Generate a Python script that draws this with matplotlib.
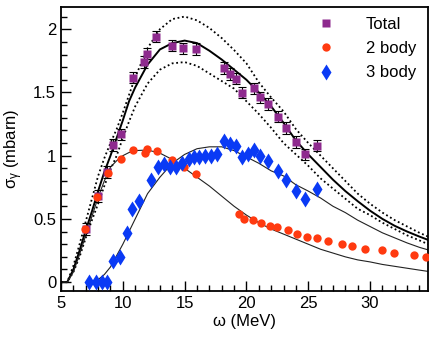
import numpy as np
import matplotlib
matplotlib.use('Agg')
import matplotlib.pyplot as plt
from matplotlib.ticker import MultipleLocator
from matplotlib.lines import Line2D

plt.rcParams['mathtext.default'] = 'regular'
plt.rcParams['font.family'] = ['Liberation Sans', 'DejaVu Sans']

# measured points
tot_x = [7.0, 7.95, 8.75, 9.22, 9.84, 10.81, 11.73, 11.97, 12.70, 14.00, 14.89, 15.92,
         18.16, 18.65, 19.14, 19.65, 20.65, 21.11, 21.76, 22.52, 23.22, 24.03, 24.73, 25.74]
tot_y = [0.42, 0.68, 0.87, 1.085, 1.169, 1.616, 1.742, 1.806, 1.94, 1.869, 1.848, 1.843,
         1.693, 1.645, 1.608, 1.498, 1.532, 1.461, 1.408, 1.308, 1.219, 1.108, 1.011, 1.079]
tot_err = [0.05, 0.05, 0.05, 0.045, 0.045, 0.045, 0.045, 0.045, 0.045, 0.045, 0.045, 0.045,
           0.045, 0.045, 0.045, 0.045, 0.045, 0.045, 0.045, 0.045, 0.045, 0.045, 0.045, 0.045]

two_x = [6.95, 7.90, 8.76, 9.84, 10.81, 11.76, 11.95, 12.76, 13.98, 14.92, 15.92,
         19.38, 19.82, 20.52, 21.16, 21.87, 22.46, 23.35, 24.11, 24.89, 25.71, 26.58,
         27.73, 28.50, 29.60, 30.93, 31.90, 33.52, 34.50]
two_y = [0.419, 0.676, 0.861, 0.974, 1.043, 1.021, 1.053, 1.035, 0.966, 0.908, 0.855,
         0.537, 0.503, 0.492, 0.466, 0.447, 0.437, 0.411, 0.382, 0.358, 0.348, 0.329,
         0.303, 0.287, 0.263, 0.253, 0.234, 0.213, 0.20]

three_x = [7.25, 7.8, 8.3, 8.72, 9.24, 9.77, 10.32, 10.73, 11.32, 12.27, 12.84, 13.36,
           13.84, 14.3, 14.8, 15.33, 15.73, 16.19, 16.62, 17.16, 17.65, 18.16, 18.7,
           19.16, 19.64, 20.13, 20.64, 21.12, 21.77, 22.54, 23.22, 24.03, 24.76, 25.74]
three_y = [0.0, 0.0, 0.0, 0.0, 0.165, 0.2, 0.387, 0.577, 0.645, 0.81, 0.91, 0.935,
           0.91, 0.91, 0.94, 0.97, 0.99, 0.987, 1.0, 1.0, 1.015, 1.12, 1.09,
           1.08, 0.99, 1.01, 1.045, 1.0, 0.96, 0.88, 0.806, 0.72, 0.656, 0.735]

# theory curves
cx = [5.0, 5.5, 6, 6.5, 7, 7.5, 8, 8.5, 9, 9.5, 10, 10.5, 11, 12, 13, 14, 15, 16, 17, 18,
      19, 20, 21, 22, 23, 24, 25, 26, 27, 28, 29, 30, 31, 32, 33, 34, 34.7]
tot_c = [0, 0, 0.1, 0.25, 0.41, 0.56, 0.72, 0.87, 1.0, 1.14, 1.28, 1.43, 1.54, 1.72, 1.84,
         1.89, 1.91, 1.89, 1.83, 1.76, 1.68, 1.6, 1.5, 1.39, 1.26, 1.12, 1.01, 0.91, 0.81,
         0.72, 0.64, 0.565, 0.5, 0.445, 0.40, 0.36, 0.334]
tot_hi = [0, 0, 0.13, 0.3, 0.48, 0.66, 0.84, 0.98, 1.1, 1.21, 1.34, 1.48, 1.62, 1.85, 2.0,
          2.08, 2.1, 2.07, 2.01, 1.93, 1.835, 1.73, 1.58, 1.46, 1.35, 1.21, 1.1, 1.0, 0.9,
          0.8, 0.7, 0.62, 0.55, 0.49, 0.44, 0.39, 0.36]
tot_lo = [0, 0, 0.08, 0.2, 0.35, 0.49, 0.62, 0.76, 0.89, 1.0, 1.14, 1.27, 1.39, 1.57, 1.68,
          1.73, 1.74, 1.71, 1.65, 1.59, 1.53, 1.43, 1.33, 1.22, 1.1, 1.01, 0.92, 0.82, 0.74,
          0.66, 0.58, 0.53, 0.47, 0.42, 0.37, 0.33, 0.30]
two_c = [0, 0, 0.08, 0.22, 0.37, 0.52, 0.67, 0.8, 0.91, 0.96, 1.0, 1.025, 1.04, 1.045, 1.02,
         0.97, 0.9, 0.83, 0.76, 0.68, 0.6, 0.53, 0.47, 0.42, 0.38, 0.34, 0.30, 0.26, 0.23,
         0.2, 0.176, 0.16, 0.14, 0.125, 0.11, 0.095, 0.085]
three_cx = [7.8, 8, 8.5, 9, 10, 11, 12, 13, 14, 15, 16, 17, 18, 19, 20, 21, 22, 23, 24,
            25, 26, 27, 28, 29, 30, 31, 32, 33, 34, 34.7]
three_c = [0, 0.02, 0.06, 0.12, 0.3, 0.5, 0.7, 0.83, 0.94, 1.01, 1.055, 1.07, 1.07, 1.04,
           0.99, 0.94, 0.88, 0.84, 0.77, 0.72, 0.665, 0.6, 0.55, 0.49, 0.44, 0.39, 0.35,
           0.31, 0.275, 0.255]

purple = '#8E2A8E'
red = '#FF3A10'
blue = '#0A3AF5'

fig = plt.figure(figsize=(4.36, 3.37), dpi=100)
ax = fig.add_axes([0.14, 0.1365, 0.842, 0.8425])

ax.plot(cx, tot_hi, color='black', lw=1.3, ls=(0, (1, 1.5)))
ax.plot(cx, tot_lo, color='black', lw=1.3, ls=(0, (1, 1.5)))
ax.plot(cx, tot_c, color='black', lw=1.4)
ax.plot(cx, two_c, color='#222222', lw=0.8)
ax.plot(three_cx, three_c, color='#222222', lw=0.8)

ax.errorbar(tot_x, tot_y, yerr=tot_err, fmt='s', color=purple, ms=5.5, mec='none',
            ecolor='black', elinewidth=0.8, capsize=3, capthick=0.8, zorder=3)
ax.plot(two_x, two_y, 'o', color=red, ms=6, mec='none', zorder=4)
ax.plot(three_x, three_y, 'd', color=blue, ms=8, mec='none', zorder=4)

ax.set_xlim(5, 34.7)
ax.set_ylim(-0.07, 2.175)
ax.xaxis.set_major_locator(MultipleLocator(5))
ax.xaxis.set_minor_locator(MultipleLocator(1))
ax.yaxis.set_minor_locator(MultipleLocator(0.1))
ax.set_yticks([0, 0.5, 1, 1.5, 2])
ax.set_yticklabels(['0', '0.5', '1', '1.5', '2'])
ax.tick_params(which='both', direction='in', labelsize=12, width=1.0)
ax.tick_params(which='major', length=7)
ax.tick_params(which='minor', length=4)
for s in ax.spines.values():
    s.set_linewidth(1.3)

ax.set_xlabel('ω (MeV)', fontsize=12, labelpad=2)
ax.set_ylabel(r'$\sigma_\gamma$ (mbarn)', fontsize=12, labelpad=6)

handles = [Line2D([], [], ls='none', marker='s', color=purple, ms=5.5, mec='none'),
           Line2D([], [], ls='none', marker='o', color=red, ms=6, mec='none'),
           Line2D([], [], ls='none', marker='d', color=blue, ms=8, mec='none')]
ax.legend(handles, ['Total', '2 body', '3 body'], loc='upper right', frameon=False,
          fontsize=12, handletextpad=1.9, borderaxespad=0.2, labelspacing=0.55,
          handlelength=1.0, bbox_to_anchor=(0.995, 1.0))

fig.savefig('out.png', dpi=100)
